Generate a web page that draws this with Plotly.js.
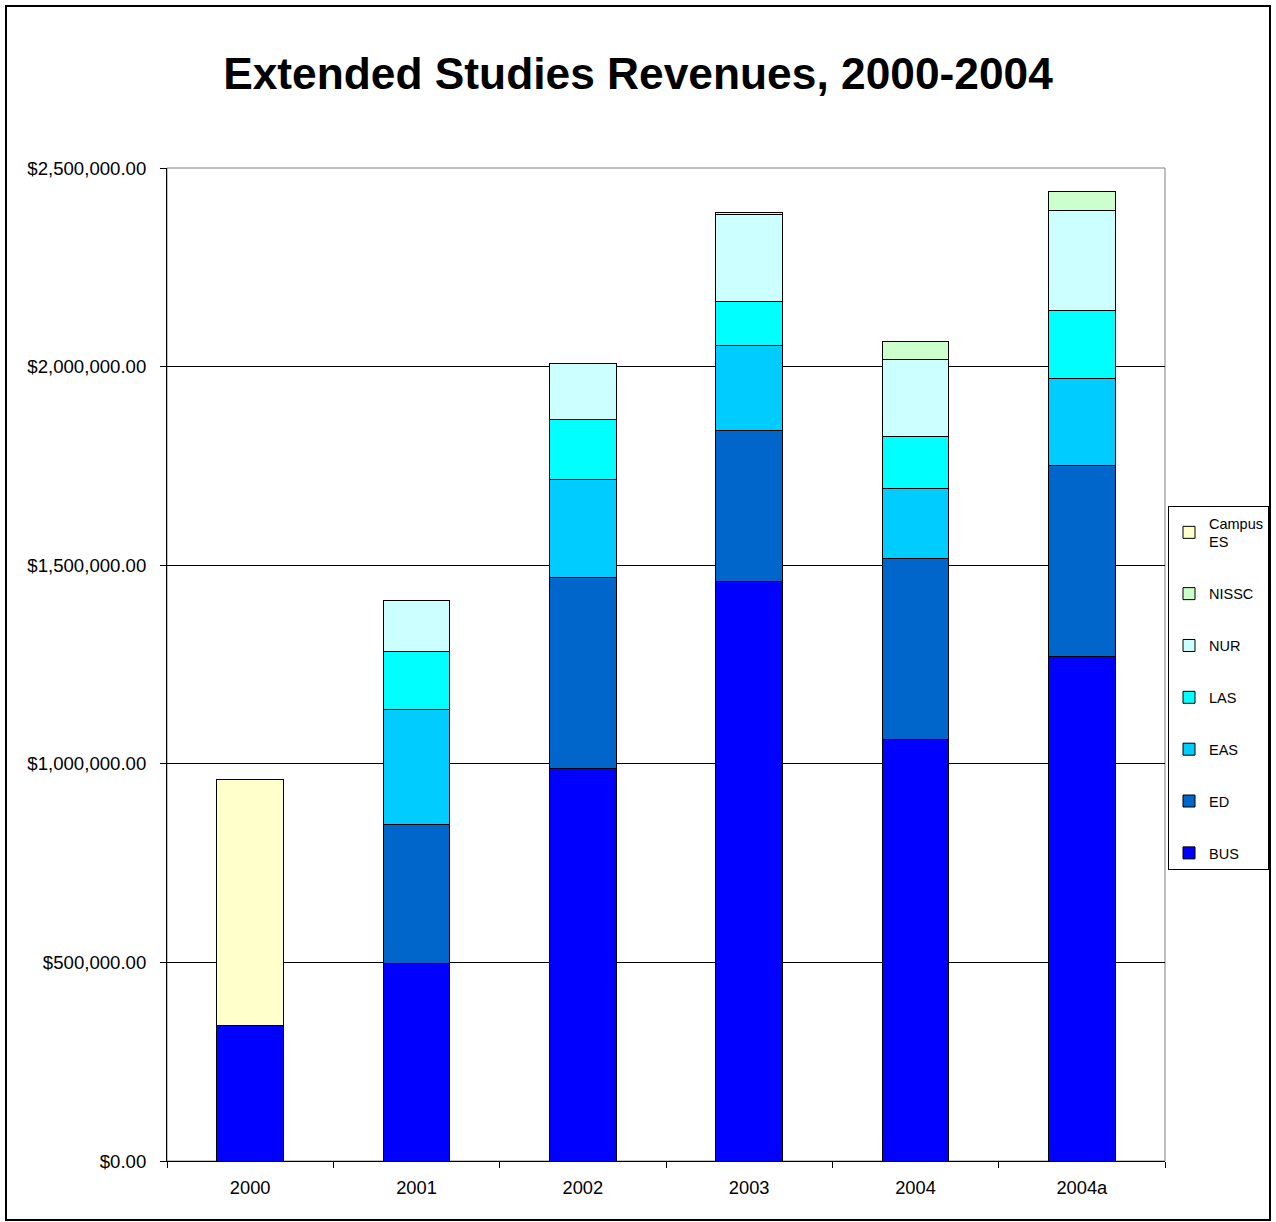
<!DOCTYPE html>
<html>
<head>
<meta charset="utf-8">
<script src="https://cdn.plot.ly/plotly-3.0.1.min.js"></script>
<style>
  html, body { margin: 0; padding: 0; background: #fff; }
  #wrap { position: relative; width: 1276px; height: 1222px; }
  #chart { width: 1276px; height: 1222px; }
  #frame { position: absolute; left: 5px; top: 5px; width: 1266px; height: 1216px; border: 2px solid #000; pointer-events: none; box-sizing: border-box; }
</style>
</head>
<body>
<div id="wrap">
  <div id="chart"></div>
  <div id="frame"></div>
</div>
<script>
const years = ["2000", "2001", "2002", "2003", "2004", "2004a"];
const BUS = [342400, 498500, 987000, 1460000, 1060000, 1271000];
const ED = [null, 347500, 481000, 380000, 458000, 481000];
const EAS = [null, 289500, 249000, 214000, 176000, 217000];
const LAS = [null, 148500, 149000, 109000, 129000, 171000];
const NUR = [null, 128000, 143000, 221000, 196000, 254000];
const NISSC = [null, null, null, 3000, 45000, 48000];
const CampusES = [617000, null, null, null, null, null];

const seriesNames = ["BUS", "ED", "EAS", "LAS", "NUR", "NISSC", "Campus<br>ES"];
const seriesData = [BUS, ED, EAS, LAS, NUR, NISSC, CampusES];
const seriesColors = ["#0000FF", "#0066CC", "#00CCFF", "#00FFFF", "#CCFFFF", "#CCFFCC", "#FFFFCC"];

const traces = seriesData.map((d, i) => ({
  type: "bar",
  name: seriesNames[i],
  x: years,
  y: d,
  legendgroup: "g" + i,
  legendrank: 100 - i,
  marker: { color: seriesColors[i], line: { color: "#000", width: 1 } },
  hoverinfo: "x+y+name"
}));

const layout = {
  width: 1276,
  height: 1222,
  barmode: "stack",
  bargap: 0.6,
  paper_bgcolor: "#fff",
  plot_bgcolor: "#fff",
  font: { family: "Liberation Sans, Arial, sans-serif", size: 18, color: "#000" },
  margin: { l: 167, r: 111, t: 168, b: 61 },
  title: {
    text: "<b>Extended Studies Revenues, 2000-2004</b>",
    font: { size: 44.3, family: "Liberation Sans, Arial, sans-serif", color: "#000" },
    x: 0.5, xanchor: "center", y: 1 - 73 / 1222, yanchor: "middle"
  },
  xaxis: {
    type: "category",
    showline: true, linecolor: "#000", linewidth: 1,
    ticks: "outside", ticklen: 6, tickcolor: "#000",
    tickson: "boundaries",
    showgrid: false,
    tickfont: { size: 18.3 },
    ticklabelstandoff: 10,
    fixedrange: true
  },
  yaxis: {
    range: [0, 2500000],
    dtick: 500000,
    tickformat: "$,.2f",
    showline: true, linecolor: "#000", linewidth: 1,
    ticks: "outside", ticklen: 6, tickcolor: "#000",
    showgrid: true, gridcolor: "#000", gridwidth: 1,
    zeroline: false,
    tickfont: { size: 18.6 },
    ticklabelstandoff: 10,
    fixedrange: true
  },
  legend: {
    xref: "container", yref: "container",
    x: 1168 / 1276, xanchor: "left",
    y: 1 - 506 / 1222, yanchor: "top",
    bordercolor: "#000", borderwidth: 1,
    traceorder: "grouped",
    tracegroupgap: 30,
    font: { size: 14.5 },
    itemwidth: 30
  },
  shapes: [
    { type: "rect", xref: "paper", yref: "paper", x0: 0, x1: 1, y0: 0, y1: 1,
      line: { color: "#808080", width: 1 }, layer: "below" }
  ]
};

Plotly.newPlot("chart", traces, layout, { staticPlot: true });
</script>
</body>
</html>
